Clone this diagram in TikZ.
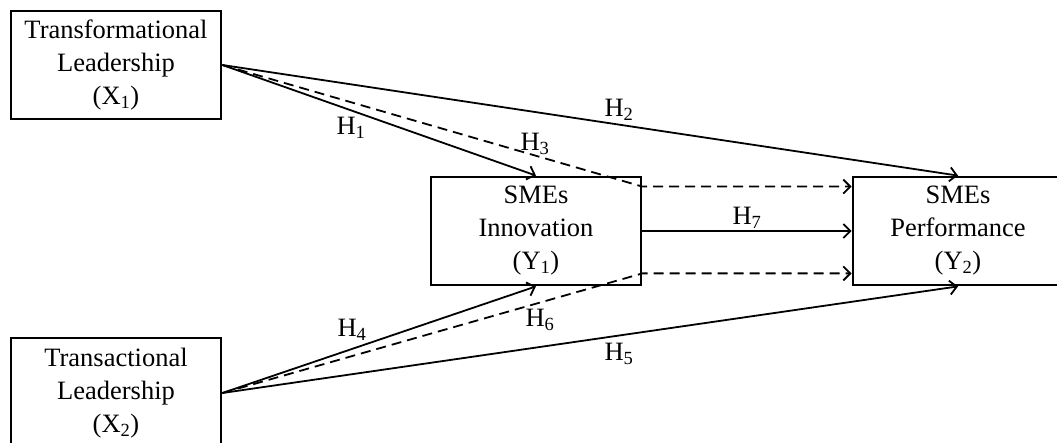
\documentclass[tikz,border=0pt]{standalone}
\usepackage{fontspec}
\setmainfont{Liberation Serif}
\usetikzlibrary{arrows.meta}
\tikzset{
  box/.style={draw, line width=2.8pt, rectangle, align=center, inner sep=0pt,
    minimum width=210pt, minimum height=108pt, font=\fontsize{26.5}{33}\selectfont},
  conn/.style={line width=1.8pt, -{Straight Barb[length=7pt,width=14pt,line width=1.8pt]}},
  dconn/.style={conn, dash pattern=on 10pt off 6pt},
  hlab/.style={font=\fontsize{26.5}{30}\selectfont, inner sep=0pt}
}
\begin{document}
\begin{tikzpicture}[x=1pt,y=-1pt]
\useasboundingbox (0,0) rectangle (1057,443);
\node[box] (X1) at (116,65) {Transformational\\Leadership\\(X\textsubscript{1})};
\node[box, minimum height=110pt] (X2) at (116,393) {Transactional\\Leadership\\(X\textsubscript{2})};
\node[box] (Y1) at (536,231) {SMEs\\Innovation\\(Y\textsubscript{1})};
\node[box] (Y2) at (958,231) {SMEs\\Performance\\(Y\textsubscript{2})};
\coordinate (h3a) at ([yshift=-11pt]Y1.north east);
\coordinate (h6a) at ([yshift=13pt]Y1.south east);
\draw[conn] (X1.east) -- (Y1.north);
\draw[conn] (X1.east) -- (Y2.north);
\draw[dconn] (X1.east) -- (h3a) -- (Y2.west |- h3a);
\draw[conn] (Y1.east) -- (Y2.west);
\draw[conn] (X2.east) -- (Y1.south);
\draw[conn] (X2.east) -- (Y2.south);
\draw[dconn] (X2.east) -- (h6a) -- (Y2.west |- h6a);
\node[hlab] (l1) at (351,128) {H\textsubscript{1}};
\node[hlab] (l2) at (619,110) {H\textsubscript{2}};
\node[hlab] (l3) at (535,144) {H\textsubscript{3}};
\node[hlab] (l7) at (747,218) {H\textsubscript{7}};
\node[hlab] (l4) at (352,330) {H\textsubscript{4}};
\node[hlab] (l6) at (540,320) {H\textsubscript{6}};
\node[hlab] (l5) at (619,354) {H\textsubscript{5}};
\end{tikzpicture}
\end{document}
